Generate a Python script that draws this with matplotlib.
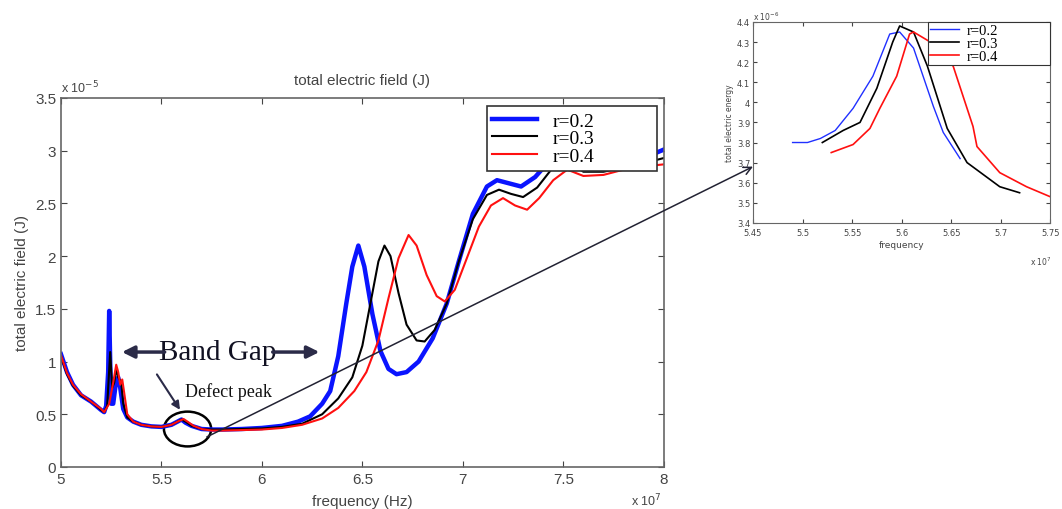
import matplotlib.pyplot as plt
import numpy as np
from matplotlib.patches import Ellipse, ConnectionPatch

# main plot: frequency in units of 1e7 Hz, field in units of 1e-5 J
f_02 = [5.00, 5.03, 5.06, 5.10, 5.15, 5.20, 5.215, 5.225, 5.235, 5.24, 5.245, 5.25, 5.26,
        5.275, 5.285, 5.295, 5.31, 5.33, 5.36, 5.40, 5.45, 5.50, 5.55, 5.58, 5.60, 5.62,
        5.65, 5.70, 5.75, 5.80, 5.90, 6.00, 6.10, 6.18, 6.24, 6.30, 6.34, 6.38, 6.42, 6.45,
        6.48, 6.51, 6.55, 6.59, 6.63, 6.67, 6.72, 6.78, 6.85, 6.92, 6.98, 7.05, 7.12, 7.17,
        7.23, 7.29, 7.36, 7.43, 7.50, 7.58, 7.65, 7.75, 7.85, 7.95, 8.00]
e_02 = [1.07, 0.90, 0.78, 0.68, 0.62, 0.54, 0.52, 0.58, 0.90, 1.48, 1.00, 0.60, 0.60,
        0.82, 0.85, 0.75, 0.55, 0.47, 0.43, 0.40, 0.385, 0.38, 0.40, 0.43, 0.45, 0.42,
        0.39, 0.36, 0.355, 0.355, 0.36, 0.37, 0.39, 0.43, 0.48, 0.60, 0.72, 1.05, 1.55, 1.90,
        2.10, 1.90, 1.45, 1.10, 0.93, 0.88, 0.90, 1.00, 1.22, 1.55, 1.95, 2.40, 2.66, 2.72,
        2.69, 2.66, 2.75, 2.90, 2.95, 2.85, 2.82, 2.85, 2.90, 2.97, 3.01]

f_03 = [5.00, 5.03, 5.06, 5.10, 5.15, 5.20, 5.215, 5.23, 5.245, 5.255, 5.265, 5.275, 5.285,
        5.30, 5.31, 5.33, 5.36, 5.40, 5.45, 5.50, 5.55, 5.58, 5.60, 5.62, 5.65, 5.70, 5.75,
        5.80, 5.90, 6.00, 6.10, 6.20, 6.30, 6.38, 6.45, 6.50, 6.54, 6.58, 6.61, 6.64, 6.68,
        6.72, 6.77, 6.81, 6.86, 6.92, 6.98, 7.05, 7.12, 7.18, 7.24, 7.30, 7.37, 7.44, 7.52,
        7.60, 7.70, 7.80, 7.90, 8.00]
e_03 = [1.05, 0.88, 0.77, 0.68, 0.62, 0.54, 0.52, 0.58, 1.09, 0.75, 0.80, 0.93, 0.85,
        0.80, 0.60, 0.47, 0.43, 0.40, 0.385, 0.38, 0.40, 0.43, 0.45, 0.43, 0.39, 0.36, 0.355,
        0.355, 0.36, 0.365, 0.38, 0.41, 0.50, 0.65, 0.85, 1.15, 1.55, 1.95, 2.10, 2.00, 1.65,
        1.35, 1.20, 1.19, 1.30, 1.55, 1.95, 2.35, 2.58, 2.63, 2.59, 2.56, 2.65, 2.82, 2.90,
        2.80, 2.80, 2.84, 2.88, 2.93]

f_04 = [5.00, 5.03, 5.06, 5.10, 5.15, 5.20, 5.215, 5.24, 5.26, 5.275, 5.285, 5.295, 5.305,
        5.315, 5.33, 5.36, 5.40, 5.45, 5.50, 5.55, 5.58, 5.61, 5.63, 5.66, 5.70, 5.75, 5.80,
        5.90, 6.00, 6.10, 6.20, 6.30, 6.38, 6.46, 6.52, 6.58, 6.63, 6.68, 6.73, 6.77, 6.82,
        6.87, 6.91, 6.96, 7.02, 7.08, 7.14, 7.20, 7.26, 7.32, 7.38, 7.45, 7.52, 7.60, 7.70,
        7.80, 7.90, 8.00]
e_04 = [1.06, 0.89, 0.78, 0.69, 0.62, 0.55, 0.52, 0.60, 0.80, 0.97, 0.90, 0.78, 0.83,
        0.70, 0.50, 0.43, 0.40, 0.385, 0.38, 0.40, 0.43, 0.455, 0.43, 0.39, 0.36, 0.345, 0.345,
        0.35, 0.355, 0.37, 0.40, 0.46, 0.56, 0.72, 0.90, 1.20, 1.60, 1.98, 2.20, 2.10, 1.82,
        1.62, 1.57, 1.68, 1.98, 2.28, 2.48, 2.55, 2.48, 2.44, 2.55, 2.72, 2.82, 2.76, 2.77,
        2.82, 2.85, 2.87]

# inset: frequency in 1e7 Hz, energy in 1e-6
fi_02 = [5.490, 5.505, 5.518, 5.533, 5.551, 5.571, 5.588, 5.598, 5.612, 5.632, 5.642, 5.659]
ei_02 = [3.80, 3.80, 3.82, 3.86, 3.97, 4.13, 4.34, 4.35, 4.27, 3.98, 3.85, 3.72]
fi_03 = [5.520, 5.541, 5.558, 5.575, 5.591, 5.598, 5.612, 5.626, 5.646, 5.666, 5.699, 5.719]
ei_03 = [3.80, 3.86, 3.90, 4.07, 4.30, 4.38, 4.35, 4.18, 3.87, 3.70, 3.58, 3.55]
fi_04 = [5.529, 5.551, 5.568, 5.578, 5.595, 5.608, 5.612, 5.629, 5.652, 5.672, 5.676,
         5.699, 5.726, 5.750]
ei_04 = [3.75, 3.79, 3.87, 3.97, 4.13, 4.34, 4.35, 4.30, 4.18, 3.88, 3.78, 3.65, 3.58, 3.53]

labels = ['r=0.2', 'r=0.3', 'r=0.4']
grey = '#444444'
serif = 'Liberation Serif'
sans = 'Liberation Sans'

fig = plt.figure(figsize=(10.62, 5.10), dpi=100)
ax = fig.add_axes([0.0574, 0.0824, 0.5676, 0.7236])

ax.plot(f_02, e_02, color='#0a14ff', lw=3.2, label=labels[0])
ax.plot(f_03, e_03, color='black', lw=1.5, label=labels[1])
ax.plot(f_04, e_04, color='#ff1010', lw=1.5, label=labels[2])

ax.set_xlim(5, 8)
ax.set_ylim(0, 3.5)
ax.set_xticks(np.arange(5, 8.01, 0.5))
ax.set_xticklabels(['5', '5.5', '6', '6.5', '7', '7.5', '8'])
ax.set_yticks(np.arange(0, 3.51, 0.5))
ax.set_yticklabels(['0', '0.5', '1', '1.5', '2', '2.5', '3', '3.5'])
ax.tick_params(direction='in', length=4, colors=grey, labelsize=11, top=True, right=True)
for lab in ax.get_xticklabels() + ax.get_yticklabels():
    lab.set_family(sans)
for s in ax.spines.values():
    s.set_color('#666666')
    s.set_linewidth(1.2)
ax.set_title('total electric field (J)', fontsize=11, color=grey, family=sans, pad=10)
ax.set_xlabel('frequency (Hz)', fontsize=11, color=grey, family=sans, labelpad=6)
ax.set_ylabel('total electric field (J)', fontsize=11, color=grey, family=sans, labelpad=4)
ax.text(0.0, 1.015, r'x 10$^{-5}$', transform=ax.transAxes, fontsize=9, color=grey, family=sans)
ax.text(0.945, -0.105, r'x 10$^{7}$', transform=ax.transAxes, fontsize=9, color=grey, family=sans)

leg = ax.legend(loc='upper left', bbox_to_anchor=(0.706, 0.805, 0.282, 0.173), mode='expand',
                borderaxespad=0.0, prop={'family': serif, 'size': 14}, labelspacing=0.0,
                handlelength=2.3, handletextpad=0.8, borderpad=0.3, fancybox=False,
                edgecolor='#333333', framealpha=1)
leg.get_frame().set_linewidth(1.2)

# annotations
navy = '#2b2b48'
ax.text(5.78, 1.09, 'Band Gap', ha='center', va='center', fontsize=21, family=serif, color='#111122')
ax.annotate('', xy=(5.29, 1.09), xytext=(5.53, 1.09),
            arrowprops=dict(arrowstyle='-|>', color=navy, lw=2.5, mutation_scale=18))
ax.annotate('', xy=(6.30, 1.09), xytext=(6.04, 1.09),
            arrowprops=dict(arrowstyle='-|>', color=navy, lw=2.5, mutation_scale=18))
ax.text(5.615, 0.72, 'Defect peak', ha='left', va='center', fontsize=13, family=serif, color='#111111')
ax.annotate('', xy=(5.60, 0.52), xytext=(5.47, 0.90),
            arrowprops=dict(arrowstyle='-|>', color=navy, lw=1.5, mutation_scale=12))
ax.add_patch(Ellipse((5.63, 0.36), 0.235, 0.33, fill=False, ec='black', lw=1.8))

# inset
ins = fig.add_axes([0.709, 0.561, 0.280, 0.394])
ins.plot(fi_02, ei_02, color='#2030ff', lw=1.0, label=labels[0])
ins.plot(fi_03, ei_03, color='black', lw=1.2, label=labels[1])
ins.plot(fi_04, ei_04, color='#ff1010', lw=1.2, label=labels[2])
ins.set_xlim(5.45, 5.75)
ins.set_ylim(3.4, 4.4)
ins.set_xticks(np.arange(5.45, 5.751, 0.05))
ins.set_xticklabels(['5.45', '5.5', '5.55', '5.6', '5.65', '5.7', '5.75'])
ins.set_yticks(np.arange(3.4, 4.41, 0.1))
ins.set_yticklabels(['3.4', '3.5', '3.6', '3.7', '3.8', '3.9', '4', '4.1', '4.2', '4.3', '4.4'])
ins.tick_params(direction='in', length=3, colors=grey, labelsize=6, top=True, right=True, pad=2)
ins.tick_params(axis='x', pad=4)
for s in ins.spines.values():
    s.set_color('#666666')
ins.set_xlabel('frequency', fontsize=6.5, color=grey, labelpad=2)
ins.set_ylabel('total electric energy', fontsize=5.5, color=grey, labelpad=2)
ins.text(0.0, 1.01, r'x 10$^{-6}$', transform=ins.transAxes, fontsize=5.5, color=grey)
ins.text(0.93, -0.21, r'x 10$^{7}$', transform=ins.transAxes, fontsize=5.5, color=grey)
leg2 = ins.legend(loc='upper left', bbox_to_anchor=(0.589, 0.80, 0.411, 0.20), mode='expand',
                  borderaxespad=0.0, prop={'family': serif, 'size': 10.5},
                  labelspacing=0.0, handlelength=2.0, handletextpad=0.5, borderpad=0.12,
                  fancybox=False, edgecolor='#333333', framealpha=1)
leg2.get_frame().set_linewidth(0.8)

# connector from defect peak to inset
con = ConnectionPatch(xyA=(5.726, 0.285), coordsA=ax.transData,
                      xyB=(5.45, 3.68), coordsB=ins.transData,
                      arrowstyle='->', color='#222233', lw=1.1, mutation_scale=14)
fig.add_artist(con)

fig.savefig('out.png', dpi=100)
